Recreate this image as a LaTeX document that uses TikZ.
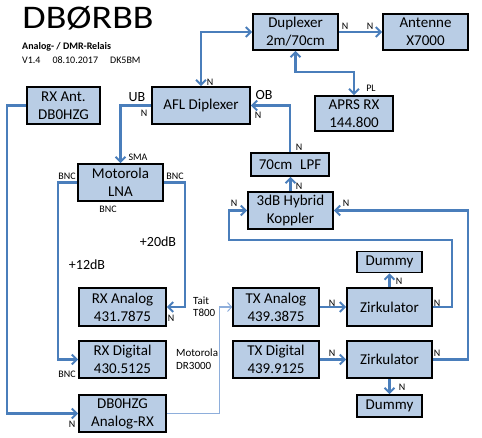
\documentclass[tikz,border=0pt]{standalone}
\usepackage{fontspec}
\setmainfont{Carlito}
\usetikzlibrary{arrows.meta,calc}
\definecolor{boxfill}{HTML}{B9CDE5}
\definecolor{conncol}{HTML}{4A7EBB}
\definecolor{thincol}{HTML}{8EAEDB}
\tikzset{
  blk/.style={draw=black,line width=1.6pt,fill=boxfill,inner sep=0pt,align=center,
     font=\fontsize{15}{18}\selectfont},
  conn/.style={draw=conncol,line width=2.2pt,arrows={-Straight Barb[length=5pt,width=10pt,line width=2pt]}},
  both/.style={draw=conncol,line width=2.2pt,arrows={Straight Barb[length=5pt,width=10pt,line width=2pt]-Straight Barb[length=5pt,width=10pt,line width=2pt]}},
  thin/.style={draw=thincol,line width=1.1pt,arrows={-Straight Barb[length=4pt,width=9pt,line width=1pt]}},
  sm/.style={font=\fontsize{10}{12}\selectfont,inner sep=0pt},
  db/.style={font=\fontsize{14}{16}\selectfont,inner sep=0pt},
  md/.style={font=\fontsize{11}{13}\selectfont,inner sep=0pt,anchor=west},
}
\begin{document}
\begin{tikzpicture}[x=1pt,y=-1pt]
\useasboundingbox (0,0) rectangle (482,437);
% title
\node[inner sep=0pt] (title) at (88,18) {\scalebox{1.15}[1]{\fontsize{33}{36}\selectfont DBØRBB}};
\node[inner sep=0pt,anchor=west,font=\fontsize{10}{12}\selectfont\bfseries] (sub1) at (22,47) {Analog- / DMR-Relais};
\node[inner sep=0pt,anchor=west,font=\fontsize{10}{12}\selectfont] (sub2) at (22,60) {V1.4\hspace{1.2em}08.10.2017\hspace{1.2em}DK5BM};
% boxes
\node[blk,minimum width=85,minimum height=36] (dup) at (295.5,32) {Duplexer\\2m/70cm};
\node[blk,minimum width=85,minimum height=36] (ant) at (425.5,32) {Antenne\\X7000};
\node[blk,minimum width=78,minimum height=35] (aprs) at (354,113.5) {APRS RX\\144.800};
\node[blk,minimum width=98,minimum height=37] (afl) at (201,105.5) {AFL Diplexer};
\node[blk,minimum width=73,minimum height=37] (rxant) at (63.5,105.5) {RX Ant.\\DB0HZG};
\node[blk,minimum width=85,minimum height=37] (lna) at (120.5,182.5) {Motorola\\LNA};
\node[blk,minimum width=78,minimum height=23] (lpf) at (290,164.5) {70cm\hspace{0.3em} LPF};
\node[blk,minimum width=85,minimum height=37] (hyb) at (290.5,210.5) {3dB Hybrid\\Koppler};
\node[blk,minimum width=65,minimum height=21] (dt) at (389.5,262) {Dummy};
\node[blk,minimum width=87,minimum height=38] (rxa) at (122.5,307) {RX Analog\\431.7875};
\node[blk,minimum width=87,minimum height=37] (rxd) at (122.5,359.5) {RX Digital\\430.5125};
\node[blk,minimum width=87,minimum height=37] (hzg) at (122.5,413.5) {DB0HZG\\Analog-RX};
\node[blk,minimum width=86,minimum height=38] (txa) at (276,307) {TX Analog\\439.3875};
\node[blk,minimum width=86,minimum height=37] (txd) at (276,359.5) {TX Digital\\439.9125};
\node[blk,minimum width=85,minimum height=38] (zt) at (389.5,307) {Zirkulator};
\node[blk,minimum width=85,minimum height=37] (zb) at (389.5,359.5) {Zirkulator};
\node[blk,minimum width=65,minimum height=22] (dbm) at (389.5,406) {Dummy};
% connectors
\draw[both] (afl.north) |- (dup.west);
\draw[conn] (dup.east) -- (ant.west);
\draw[both] (dup.south) -- (dup.south |- 0,72) -| (aprs.north);
\draw[conn] (lpf.north) |- (afl.east);
\draw[conn] (hyb.north) -- (hyb.north |- lpf.south);
\draw[conn] (zt.east) -| (452,240) -| ($(hyb.west)+(-18,0)$) -- (hyb.west);
\draw[conn] (zb.east) -| ($(hyb.east)+(134,0)$) -- (hyb.east);
\draw[conn] (zt.north) -- (dt.south);
\draw[conn] (zb.south) -- (dbm.north);
\draw[conn] (txa.east) -- (zt.west);
\draw[conn] (txd.east) -- (zb.west);
\draw[conn] (afl.west) -| (lna.north);
\draw[conn] (lna.west) -- ++(-19,0) |- (rxd.west);
\draw[conn] (lna.east) -- ++(21,0) |- (rxa.east);
\draw[conn] (rxant.west) -- ++(-19,0) |- (hzg.west);
\draw[thin] (hzg.east) -- ++(53,0) |- (txa.west);
% labels
\node[sm] (l1) at (210,82) {N};
\node[db] (l2) at (137,97) {UB};
\node[sm] (l3) at (144,113) {N};
\node[sm] (l4) at (345,26) {N};
\node[sm] (l5) at (370,26) {N};
\node[sm] (l6) at (371,88) {PL};
\node[db] (l7) at (264,95) {OB};
\node[sm] (l8) at (258,115) {N};
\node[sm] (l9) at (299,147) {N};
\node[sm] (l10) at (299,186) {N};
\node[sm] (l11) at (234,203) {N};
\node[sm] (l12) at (346,203) {N};
\node[sm] (l13) at (399,281) {N};
\node[sm] (l14) at (437,303) {N};
\node[sm] (l15) at (437,353) {N};
\node[sm] (l16) at (332,303) {N};
\node[sm] (l17) at (332,353) {N};
\node[sm] (l18) at (402,387) {N};
\node[sm] (l19) at (138,157) {SMA};
\node[sm] (l20) at (67,176) {BNC};
\node[sm] (l21) at (175,176) {BNC};
\node[sm] (l22) at (108,209) {BNC};
\node[db] (l23) at (158,242) {+20dB};
\node[db] (l24) at (87,265) {+12dB};
\node[sm] (l25) at (171,318) {N};
\node[sm] (l26) at (67,374) {BNC};
\node[sm] (l27) at (72,424) {N};
\node[md] (l28) at (193,301) {Tait};
\node[md] (l29) at (193,313) {T800};
\node[md] (l30) at (176,353) {Motorola};
\node[md] (l31) at (176,366) {DR3000};
\end{tikzpicture}
\end{document}
